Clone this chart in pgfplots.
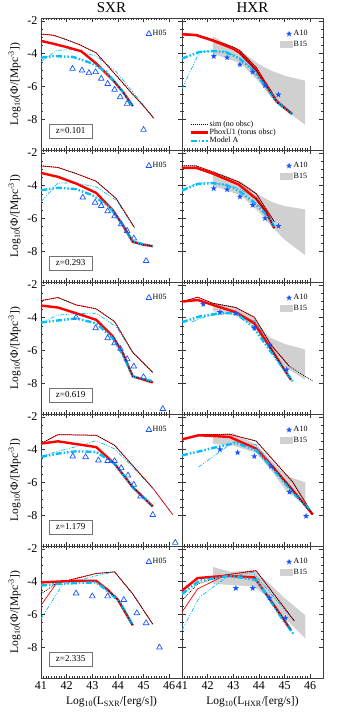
\documentclass[border=0pt]{standalone}
\usepackage{fontspec}
\setmainfont{Liberation Serif}
\usepackage{pgfplots}
\pgfplotsset{compat=1.18}
\usepgfplotslibrary{groupplots}
\definecolor{cyanc}{RGB}{0,190,255}
\definecolor{mblue}{RGB}{25,85,255}
\definecolor{bgray}{RGB}{208,208,208}
\pgfdeclareplotmark{fstar}{%
\pgfpathmoveto{\pgfpointpolar{90}{\pgfplotmarksize}}%
\pgfpathlineto{\pgfpointpolar{126}{0.42\pgfplotmarksize}}%
\pgfpathlineto{\pgfpointpolar{162}{\pgfplotmarksize}}%
\pgfpathlineto{\pgfpointpolar{198}{0.42\pgfplotmarksize}}%
\pgfpathlineto{\pgfpointpolar{234}{\pgfplotmarksize}}%
\pgfpathlineto{\pgfpointpolar{270}{0.42\pgfplotmarksize}}%
\pgfpathlineto{\pgfpointpolar{306}{\pgfplotmarksize}}%
\pgfpathlineto{\pgfpointpolar{342}{0.42\pgfplotmarksize}}%
\pgfpathlineto{\pgfpointpolar{18}{\pgfplotmarksize}}%
\pgfpathlineto{\pgfpointpolar{54}{0.42\pgfplotmarksize}}%
\pgfpathclose\pgfusepathqfill}
\tikzset{zbox/.style={draw=black!55, line width=0.5pt, fill=white, font=\fontsize{9}{9}\selectfont, minimum width=43pt, minimum height=14pt, inner sep=1pt},
 ttl/.style={font=\fontsize{15}{15}\selectfont, anchor=base, inner sep=0pt, yshift=5pt}}
\pgfplotsset{
 thinred/.style={red, line width=0.7pt, forget plot},
 simdot/.style={black, line width=0.8pt, dash pattern=on 0.8pt off 1.2pt, forget plot},
 thickred/.style={red, line width=2.4pt, forget plot},
 ddstyle/.style={dash pattern=on 6pt off 2pt on 1.5pt off 2pt on 1.5pt off 2pt},
 thickcyan/.style={cyanc, line width=2.4pt, ddstyle, forget plot},
 thincyan/.style={cyanc, line width=0.7pt, dash pattern=on 4pt off 1.5pt on 1pt off 1.5pt on 1pt off 1.5pt, forget plot},
 h05/.style={only marks, mark=triangle, mark size=3.3pt, mblue, mark options={line width=0.7pt, fill=none}, forget plot},
 a10/.style={only marks, mark=fstar, mark size=3.2pt, mblue, forget plot},
 b15/.style={fill=bgray, draw=none, forget plot},
 b15leg/.style={legend image code/.code={\fill[bgray] (0pt,-3pt) rectangle (12pt,3pt);}},
 legH/.style={legend style={at={(0.92,0.93)}, anchor=north east, draw=none, fill=none, font=\fontsize{8}{8}\selectfont, row sep=1.5pt, nodes={inner sep=1pt}}, legend cell align=left},
}
\begin{document}
\begin{tikzpicture}
\begin{groupplot}[
 group style={group size=2 by 5, horizontal sep=0pt, vertical sep=0pt, xticklabels at=edge bottom, yticklabels at=edge left},
 scale only axis, width=141pt, height=132pt,
 xmin=41, xmax=46.5, ymin=-9.89, ymax=-1.82,
 xtick={41,42,43,44,45,46}, xticklabels={41,42,43,44,45,46},
 ytick={-2,-4,-6,-8}, yticklabels={-2,-4,-6,-8},
 minor x tick num=9, minor y tick num=3,
 tick align=inside, major tick length=4pt, minor tick length=2pt,
 tick style={black!80, line width=0.4pt},
 axis line style={black!75, line width=0.6pt},
 tick label style={font=\fontsize{12}{12}\selectfont},
 label style={font=\fontsize{11.5}{12}\selectfont},
 clip mode=individual,
 every axis plot/.append style={line join=round},
]
% ---------------- row 1 ----------------
\nextgroupplot[ylabel={Log\textsubscript{10}(Φ/[Mpc\textsuperscript{-3}])}, legH]
\addlegendimage{only marks, mark=triangle, mark size=3.3pt, mblue, mark options={line width=0.7pt}}
\addlegendentry{H05}
\addplot[thincyan] coordinates {(41,-4.5)(41.6,-3.8)(42.2,-3.75)(43.15,-4.15)(43.93,-5.1)(44.5,-6.2)(45,-7.15)(45.4,-7.95)};
\addplot[thinred] coordinates {(41,-2.8)(41.5,-2.88)(42,-3.15)(42.5,-3.45)(43.15,-3.95)(44,-5.45)(44.5,-6.35)(45,-7.2)(45.4,-7.95)};
\addplot[simdot] coordinates {(41,-2.8)(41.5,-2.88)(42,-3.15)(42.5,-3.45)(43.15,-3.95)(44,-5.45)(44.5,-6.35)(45,-7.2)(45.4,-7.95)};
\addplot[thickred] coordinates {(41,-3.22)(41.5,-3.4)(42,-3.6)(42.57,-3.85)(43.15,-4.6)(43.8,-5.6)(44.2,-6.35)(44.58,-7.2)};
\addplot[thickcyan] coordinates {(41,-4.25)(41.5,-4.15)(42.25,-4.2)(43,-4.6)(43.54,-5.1)(44.2,-6.35)(44.58,-7.2)};
\addplot[simdot] coordinates {(43.8,-5.6)(44.2,-6.35)(44.58,-7.2)};
\addplot[h05] coordinates {(42.23,-4.92)(42.6,-5.02)(42.87,-5.18)(43.13,-5.12)(43.35,-5.53)(43.6,-5.84)(43.87,-6.2)(44.09,-6.65)(44.36,-7.06)(45.0,-8.65)};
\node[zbox] at (rel axis cs:0.21,0.144) {z=0.101};
\node[ttl] at (rel axis cs:0.5,1) {SXR};

\nextgroupplot[legH]
\addlegendimage{only marks, mark=fstar, mark size=3.2pt, mblue}
\addlegendentry{A10}
\addlegendimage{b15leg}
\addlegendentry{B15}
\addplot[b15] coordinates {(42.2,-2.95)(43.3,-3.85)(44.0,-4.65)(44.5,-5.05)(45.0,-5.35)(45.8,-5.65)(45.8,-8.35)(45.0,-7.4)(44.5,-6.7)(44.0,-5.7)(43.3,-4.6)(42.2,-4.0)} -- cycle;
\addplot[thincyan] coordinates {(41,-6.15)(41.68,-3.9)(42.2,-3.82)(42.7,-3.88)(43.24,-4.25)(43.76,-4.95)(44.28,-6.0)(44.67,-6.85)(45.3,-7.65)};
\addplot[thinred] coordinates {(41,-2.78)(41.55,-2.82)(42.2,-3.14)(43,-3.6)(43.25,-3.8)(43.9,-4.85)(44.3,-5.85)(44.7,-6.85)(45.3,-7.65)};
\addplot[simdot] coordinates {(41,-2.78)(41.55,-2.82)(42.2,-3.14)(43,-3.6)(43.25,-3.8)(43.9,-4.85)(44.3,-5.85)(44.7,-6.85)(45.3,-7.65)};
\addplot[thickred] coordinates {(41,-2.82)(41.55,-2.87)(42.2,-3.2)(43,-3.7)(43.25,-3.95)(43.9,-5.0)(44.3,-6.0)(44.7,-6.95)(45.3,-7.7)};
\addplot[thickcyan] coordinates {(41,-4.3)(41.68,-3.9)(42.2,-3.84)(42.7,-3.9)(43.24,-4.3)(43.76,-5.0)(44.28,-6.04)(44.67,-6.9)(45.3,-7.7)};
\addplot[simdot] coordinates {(43.25,-3.95)(43.9,-5.0)(44.3,-6.0)(44.7,-6.95)(45.3,-7.7)};
\addplot[a10] coordinates {(42.24,-4.16)(42.76,-4.24)(43.26,-4.67)(43.76,-5.12)(44.24,-5.94)(44.76,-6.51)};
\node[ttl] at (rel axis cs:0.5,1) {HXR};
% ---------------- row 2 ----------------
\nextgroupplot[ylabel={Log\textsubscript{10}(Φ/[Mpc\textsuperscript{-3}])}, legH]
\addlegendimage{only marks, mark=triangle, mark size=3.3pt, mblue, mark options={line width=0.7pt}}
\addlegendentry{H05}
\addplot[thincyan] coordinates {(41,-4.99)(41.66,-3.83)(42.37,-3.85)(43.15,-4.07)(43.93,-4.89)(44.64,-6.55)};
\addplot[thinred] coordinates {(41,-2.79)(41.66,-2.89)(42.37,-3.26)(43.15,-3.73)(43.93,-4.78)(44.64,-6.55)};
\addplot[simdot] coordinates {(41,-2.79)(41.66,-2.89)(42.37,-3.26)(43.15,-3.73)(43.93,-4.78)(44.64,-6.55)};
\addplot[thickred] coordinates {(41,-3.22)(41.66,-3.46)(42.37,-3.87)(43.15,-4.44)(43.8,-5.5)(44.19,-6.41)(44.58,-7.43)(44.97,-7.6)(45.36,-7.7)};
\addplot[thickcyan] coordinates {(41,-4.28)(41.66,-4.13)(42.37,-4.21)(43,-4.58)(43.67,-5.29)(44.19,-6.41)(44.58,-7.43)(45.36,-7.7)};
\addplot[simdot] coordinates {(43.8,-5.5)(44.19,-6.41)(44.58,-7.43)(44.97,-7.6)(45.36,-7.7)};
\addplot[h05] coordinates {(42.63,-4.72)(43.11,-5.03)(43.35,-5.23)(43.6,-5.56)(43.87,-5.86)(44.13,-6.35)(44.36,-6.76)(44.62,-7.22)(45.1,-8.6)};
\node[zbox] at (rel axis cs:0.21,0.144) {z=0.293};

\nextgroupplot[legH]
\addlegendimage{only marks, mark=fstar, mark size=3.2pt, mblue}
\addlegendentry{A10}
\addlegendimage{b15leg}
\addlegendentry{B15}
\addplot[b15] coordinates {(42.2,-3.1)(43.3,-3.75)(44.0,-4.55)(44.5,-5.0)(45.0,-5.25)(45.8,-5.45)(45.8,-8.25)(45.0,-7.3)(44.5,-6.5)(44.0,-5.6)(43.3,-4.6)(42.2,-4.0)} -- cycle;
\addplot[thincyan] coordinates {(41,-4.3)(41.6,-3.85)(42.2,-3.8)(43.2,-4.15)(43.9,-4.85)(44.6,-6.2)};
\addplot[thinred] coordinates {(41,-2.79)(41.55,-2.79)(42.2,-3.16)(43.21,-3.77)(43.89,-4.48)(44.6,-6.2)};
\addplot[simdot] coordinates {(41,-2.79)(41.55,-2.79)(42.2,-3.16)(43.21,-3.77)(43.89,-4.48)(44.6,-6.2)};
\addplot[thickred] coordinates {(41,-2.91)(41.55,-2.91)(42.2,-3.26)(43.21,-3.93)(43.89,-4.79)(44.28,-5.6)(44.6,-6.6)};
\addplot[thickcyan] coordinates {(41,-4.3)(41.6,-3.9)(42.2,-3.85)(42.7,-3.95)(43.2,-4.3)(43.8,-5.0)(44.3,-5.8)(44.6,-6.5)};
\addplot[simdot] coordinates {(43.89,-4.79)(44.28,-5.6)(44.6,-6.6)};
\addplot[a10] coordinates {(42.24,-4.17)(42.76,-4.24)(43.26,-4.68)(43.76,-5.19)(44.24,-6.0)(44.76,-6.47)};
% ---------------- row 3 ----------------
\nextgroupplot[ylabel={Log\textsubscript{10}(Φ/[Mpc\textsuperscript{-3}])}, legH]
\addlegendimage{only marks, mark=triangle, mark size=3.3pt, mblue, mark options={line width=0.7pt}}
\addlegendentry{H05}
\addplot[thincyan] coordinates {(41,-4.3)(41.66,-3.85)(42.37,-3.75)(43.15,-3.73)(43.93,-4.54)(44.58,-6.13)(45.36,-7.35)};
\addplot[thinred] coordinates {(41,-2.96)(41.66,-2.77)(42.37,-3.22)(43.15,-3.46)(43.87,-4.24)(44.58,-6.13)(45.36,-7.35)};
\addplot[simdot] coordinates {(41,-2.96)(41.66,-2.77)(42.37,-3.22)(43.15,-3.46)(43.87,-4.24)(44.58,-6.13)(45.36,-7.35)};
\addplot[thickred] coordinates {(41,-3.26)(41.66,-3.38)(42.37,-3.73)(43.15,-4.13)(43.8,-5.15)(44.19,-6.17)(44.58,-7.59)(45.36,-7.96)};
\addplot[thickcyan] coordinates {(41,-4.3)(41.66,-4.17)(42.37,-4.05)(43.15,-4.34)(43.8,-5.25)(44.19,-6.27)(44.58,-7.59)(45.36,-7.89)};
\addplot[simdot] coordinates {(43.8,-5.15)(44.19,-6.17)(44.58,-7.59)(45.36,-7.96)};
\addplot[h05] coordinates {(42.37,-3.99)(43.13,-4.64)(43.6,-5.25)(43.87,-5.56)(44.1,-5.9)(44.36,-6.53)(44.62,-6.98)(45.0,-7.63)(45.75,-9.58)};
\node[zbox] at (rel axis cs:0.21,0.144) {z=0.619};

\nextgroupplot[legH]
\addlegendimage{only marks, mark=fstar, mark size=3.2pt, mblue}
\addlegendentry{A10}
\addlegendimage{b15leg}
\addlegendentry{B15}
\addplot[b15] coordinates {(42.2,-3.15)(43.0,-3.3)(43.8,-4.0)(44.4,-5.2)(45.0,-5.6)(45.8,-5.95)(45.8,-7.8)(45.0,-7.0)(44.4,-5.9)(43.8,-4.5)(43.0,-3.8)(42.2,-3.6)} -- cycle;
\addplot[thincyan] coordinates {(41.4,-4.25)(42,-3.9)(42.7,-3.75)(43.3,-3.85)(43.82,-4.2)(44.47,-5.66)(45.19,-6.98)};
\addplot[thinred] coordinates {(41,-3.02)(41.61,-2.75)(42.2,-3.12)(43.1,-3.38)(43.82,-3.97)(44.47,-5.66)(45.19,-6.98)};
\addplot[simdot] coordinates {(41,-3.02)(41.61,-2.75)(42.2,-3.12)(43.1,-3.38)(43.82,-3.97)(44.47,-5.66)(45.19,-6.98)(46.1,-7.89)};
\addplot[thickred] coordinates {(41,-3.02)(41.61,-2.92)(42.2,-3.22)(43.1,-3.67)(43.82,-4.34)(44.41,-5.76)(45.25,-7.8)};
\addplot[thickcyan] coordinates {(41,-4.28)(41.68,-3.93)(42.46,-3.73)(43.1,-3.73)(43.76,-4.54)(44.41,-5.96)(45.32,-7.89)};
\addplot[simdot] coordinates {(44.41,-5.76)(45.25,-7.8)};
\addplot[a10] coordinates {(41.83,-3.18)(42.48,-3.67)(43.1,-3.73)(43.82,-4.64)(44.43,-5.66)(45.08,-7.18)};
% ---------------- row 4 ----------------
\nextgroupplot[ylabel={Log\textsubscript{10}(Φ/[Mpc\textsuperscript{-3}])}, legH]
\addlegendimage{only marks, mark=triangle, mark size=3.3pt, mblue, mark options={line width=0.7pt}}
\addlegendentry{H05}
\addplot[thincyan] coordinates {(41,-4.4)(41.66,-4.1)(42.4,-3.8)(43.15,-3.45)(43.87,-3.95)(44.6,-5.1)(45.36,-6.35)(46.14,-7.98)};
\addplot[thinred] coordinates {(41,-3.63)(41.66,-3.08)(43.15,-3.12)(43.87,-3.73)(45.36,-6.35)(46.14,-7.98)};
\addplot[simdot] coordinates {(41,-3.63)(41.66,-3.08)(43.15,-3.12)(43.87,-3.73)(45.36,-6.35)};
\addplot[thickred] coordinates {(41,-3.63)(41.66,-3.49)(43.15,-3.84)(43.87,-4.86)(44.58,-6.29)(45.36,-7.47)};
\addplot[thickcyan] coordinates {(41,-4.45)(41.66,-4.24)(42.37,-4.1)(43.15,-4.14)(43.87,-4.86)(44.58,-6.29)(45.3,-7.4)};
\addplot[simdot] coordinates {(43.87,-4.86)(44.58,-6.29)(45.36,-7.47)};
\addplot[h05] coordinates {(42.24,-4.41)(42.74,-4.45)(43.24,-4.65)(43.6,-4.69)(43.87,-4.69)(44.13,-5.12)(44.39,-5.57)(44.62,-6.14)(44.88,-6.86)(45.36,-7.98)(46.24,-9.69)};
\node[zbox] at (rel axis cs:0.21,0.144) {z=1.179};

\nextgroupplot[legH]
\addlegendimage{only marks, mark=fstar, mark size=3.2pt, mblue}
\addlegendentry{A10}
\addlegendimage{b15leg}
\addlegendentry{B15}
\addplot[b15] coordinates {(42.2,-3.1)(43.0,-3.0)(43.9,-3.7)(44.5,-4.7)(45.06,-5.6)(45.81,-6.0)(45.81,-7.4)(45.06,-6.5)(44.5,-5.3)(43.9,-4.2)(43.0,-3.75)(42.2,-3.65)} -- cycle;
\addplot[thincyan] coordinates {(41.65,-5.06)(43.0,-3.53)(43.89,-3.7)(44.54,-5.0)(45.32,-6.5)(46.1,-7.96)};
\addplot[thinred] coordinates {(41,-3.43)(41.65,-3.08)(42.85,-3.06)(43.89,-3.47)(45.32,-5.98)(46.1,-7.96)};
\addplot[simdot] coordinates {(41,-3.43)(41.65,-3.08)(42.85,-3.06)(43.89,-3.47)(45.32,-5.98)(46.1,-7.96)};
\addplot[thickred] coordinates {(41,-3.37)(41.65,-3.12)(42.85,-3.22)(43.89,-3.94)(44.54,-5.06)(45.32,-6.49)(46.1,-7.96)};
\addplot[thickcyan] coordinates {(41,-4.35)(41.68,-4.1)(42.46,-3.8)(43.1,-3.59)(43.89,-4.04)(44.54,-5.16)(45.32,-6.6)(46.0,-7.7)};
\addplot[simdot] coordinates {(44.54,-5.06)(45.32,-6.49)(46.1,-7.96)};
\addplot[a10] coordinates {(42.48,-3.98)(43.17,-4.18)(43.82,-4.41)(44.47,-5.02)(45.19,-6.59)(45.84,-8.06)};
% ---------------- row 5 ----------------
\nextgroupplot[ylabel={Log\textsubscript{10}(Φ/[Mpc\textsuperscript{-3}])}, xlabel={Log\textsubscript{10}(L\textsubscript{SXR}/[erg/s])}, legH]
\addlegendimage{only marks, mark=triangle, mark size=3.3pt, mblue, mark options={line width=0.7pt}}
\addlegendentry{H05}
\addplot[thincyan] coordinates {(41,-6.26)(41.86,-4.14)(43.15,-3.64)(43.87,-3.4)(44.58,-4.75)(45.36,-6.6)};
\addplot[thinred] coordinates {(41,-5.45)(41.6,-4.1)(43.15,-3.5)(43.87,-3.4)(44.58,-4.75)(45.36,-6.6)};
\addplot[simdot] coordinates {(41,-4.75)(41.6,-4.1)(43.15,-3.5)(43.87,-3.4)(44.58,-4.75)(45.36,-6.6)};
\addplot[thickred] coordinates {(41,-4.05)(41.6,-4.0)(42.3,-3.95)(43.15,-3.95)(43.6,-4.5)(44.0,-5.1)(44.58,-6.67)};
\addplot[thickcyan] coordinates {(41,-4.24)(41.6,-4.14)(43.15,-4.04)(43.67,-4.65)(44.1,-5.3)(44.58,-6.67)};
\addplot[simdot] coordinates {(43.6,-4.5)(44.0,-5.1)(44.58,-6.67)};
\addplot[h05] coordinates {(42.37,-4.71)(43.0,-4.89)(43.6,-4.89)(44.23,-5.11)(44.74,-5.92)(45.1,-6.53)(45.62,-8.02)};
\node[zbox] at (rel axis cs:0.21,0.144) {z=2.335};

\nextgroupplot[xlabel={Log\textsubscript{10}(L\textsubscript{HXR}/[erg/s])}, legH]
\addlegendimage{only marks, mark=fstar, mark size=3.2pt, mblue}
\addlegendentry{A10}
\addlegendimage{b15leg}
\addlegendentry{B15}
\addplot[b15] coordinates {(42.2,-3.1)(42.9,-3.4)(43.8,-3.3)(44.4,-4.1)(45.0,-5.0)(45.81,-6.06)(45.81,-7.47)(45.0,-6.2)(44.4,-5.0)(43.8,-4.3)(42.9,-4.2)(42.2,-4.14)} -- cycle;
\addplot[thincyan] coordinates {(41,-6.97)(41.68,-4.95)(42.72,-3.74)(43.76,-3.43)(45.38,-6.4)};
\addplot[thinred] coordinates {(41,-5.86)(41.61,-4.44)(42.72,-3.58)(43.89,-3.33)(45.38,-6.4)};
\addplot[simdot] coordinates {(41,-5.15)(41.61,-4.14)(42.72,-3.58)(43.89,-3.33)(45.38,-6.4)};
\addplot[thickred] coordinates {(41,-4.55)(41.61,-3.78)(42.72,-3.64)(43.82,-3.74)(44.28,-4.75)(44.86,-6.06)(45.25,-6.97)};
\addplot[thickcyan] coordinates {(41,-4.75)(41.68,-3.94)(42.85,-3.64)(43.89,-3.9)(44.28,-4.75)(44.86,-6.16)(45.38,-7.27)};
\addplot[simdot] coordinates {(44.28,-4.75)(44.86,-6.06)(45.25,-6.97)};
\addplot[a10] coordinates {(43.1,-4.4)(43.76,-4.4)(44.41,-4.99)(45.03,-6.22)};
\end{groupplot}
\begin{axis}[at={(group c2r1.south west)}, anchor=south west, scale only axis, width=141pt, height=132pt, hide axis, xmin=0, xmax=1, ymin=0, ymax=1,
 legend style={at={(0.03,0.02)}, anchor=south west, draw=none, fill=none, font=\fontsize{8}{8}\selectfont, row sep=-0.5pt, nodes={inner sep=0.8pt}}, legend cell align=left]
\addlegendimage{black, line width=0.8pt, dash pattern=on 0.8pt off 1.2pt}
\addlegendentry{sim (no obsc)}
\addlegendimage{red, line width=2.4pt}
\addlegendentry{PhoxU1 (torus obsc)}
\addlegendimage{cyanc, line width=2.4pt, ddstyle}
\addlegendentry{Model A}
\end{axis}
\pgfresetboundingbox
\path ([shift={(-41pt,18pt)}]group c1r1.north west) rectangle ([shift={(18pt,-37pt)}]group c2r5.south east);
\end{tikzpicture}
\end{document}
